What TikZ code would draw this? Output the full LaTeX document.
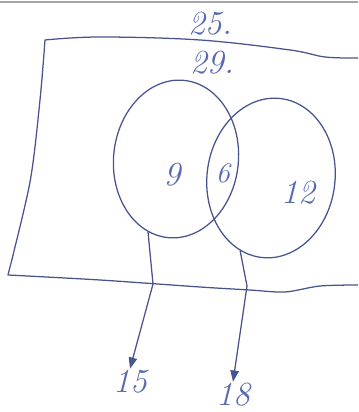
\documentclass[tikz,border=0pt]{standalone}
\usepackage{tikz}
\usetikzlibrary{arrows.meta,shapes.geometric}
\definecolor{tinta}{RGB}{72,84,142}
\definecolor{numero}{RGB}{88,106,176}

\begin{document}
\begin{tikzpicture}[
		x=0.025cm, y=0.025cm,
		conj/.style={draw=tinta, ellipse, line width=0.9pt, inner sep=0pt},
		num/.style={text=numero, font=\fontsize{24}{26}\selectfont\itshape, inner sep=1pt},
		borda/.style={draw=tinta, line width=0.9pt, line join=round},
		>={Triangle[length=8pt,width=6pt]},
		fl/.style={->, draw=tinta, line width=0.9pt}
	]
	\useasboundingbox (0,0) rectangle (358,412);
	\draw[gray!70, line width=1.5pt] (0,410) -- (358,410);

	% universo
	\draw[borda] plot[smooth, tension=0.6] coordinates {(358,354) (325,355) (290,362) (200,372) (100,375) (45,372)}
		-- plot[smooth] coordinates {(45,372) (40,312) (30,230) (8,137)}
		-- plot[smooth] coordinates {(8,137) (100,132) (200,125) (250,122) (285,120) (320,126) (358,127)};

	\node[conj, minimum width=3.12cm, minimum height=3.95cm, rotate=-6] (A) at (176,253) {};
	\node[conj, minimum width=3.2cm, minimum height=4cm, rotate=-7] (B) at (271,234) {};

	\node[num] (n25) at (210,388) {25.};
	\node[num] (n29) at (212,349) {29.};
	\node[num] (n9) at (172,237) {9};
	\node[num, font=\fontsize{20}{22}\selectfont\itshape] (n6) at (223,239) {6};
	\node[num] (n12) at (298,219) {12};
	\node[num] (n15) at (130,30) {15};
	\node[num] (n18) at (233,17) {18};

	\draw[fl] (A.255) -- (153,128) -- (n15.north);
	\draw[fl] (B.254) -- (247,126) -- (n18.north);
\end{tikzpicture}
\end{document}
